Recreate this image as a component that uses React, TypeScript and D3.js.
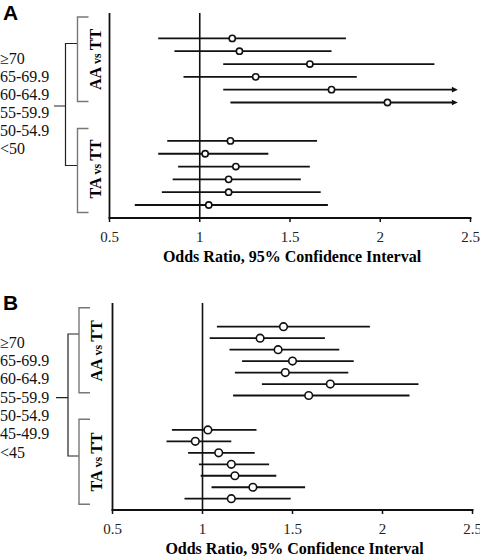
import React from "react";
import * as d3 from "d3";

// ---- Data ----
const ticks = [0.5, 1, 1.5, 2, 2.5];
const tickLabels = ["0.5", "1", "1.5", "2", "2.5"];
const axisTitle = "Odds Ratio, 95% Confidence Interval";
const groupLabels = [
  ["AA", "vs", "TT"],
  ["TA", "vs", "TT"],
];

const A_ages = ["≥70", "65-69.9", "60-64.9", "55-59.9", "50-54.9", "<50"];
const A_AA_or = [1.18, 1.22, 1.61, 1.31, 1.73, 2.04];
const A_AA_lo = [0.77, 0.86, 1.13, 0.91, 1.13, 1.17];
const A_AA_hi = [1.81, 1.73, 2.3, 1.87, 2.43, 2.43];
const A_AA_arrow = [false, false, false, false, true, true];
const A_TA_or = [1.17, 1.03, 1.2, 1.16, 1.16, 1.05];
const A_TA_lo = [0.82, 0.77, 0.88, 0.85, 0.79, 0.64];
const A_TA_hi = [1.65, 1.38, 1.61, 1.56, 1.67, 1.71];

const B_ages = ["≥70", "65-69.9", "60-64.9", "55-59.9", "50-54.9", "45-49.9", "<45"];
const B_AA_or = [1.45, 1.32, 1.42, 1.5, 1.46, 1.71, 1.59];
const B_AA_lo = [1.08, 1.04, 1.15, 1.22, 1.18, 1.33, 1.17];
const B_AA_hi = [1.93, 1.68, 1.76, 1.84, 1.81, 2.2, 2.15];
const B_AA_arrow = [false, false, false, false, false, false, false];
const B_TA_or = [1.03, 0.96, 1.09, 1.16, 1.18, 1.28, 1.16];
const B_TA_lo = [0.83, 0.8, 0.92, 0.98, 0.99, 1.05, 0.9];
const B_TA_hi = [1.3, 1.16, 1.29, 1.37, 1.41, 1.57, 1.49];

type PanelCfg = {
  letter: string;
  letterY: number;
  ages: string[];
  ageBase0: number;
  ageStep: number;
  x0: number;
  x1: number;
  yTop: number;
  yAxis: number;
  slot0: number;
  slotN: number;
  nSlots: number;
  taStart: number;
  aa: { or: number[]; lo: number[]; hi: number[]; arrow: boolean[] };
  ta: { or: number[]; lo: number[]; hi: number[] };
  outerX: number;
  outerTop: number;
  outerBot: number;
  stubX: number;
  stubY: number;
  innerX: number;
  innerTickX: number;
  aaTop: number;
  aaBot: number;
  taTop: number;
  taBot: number;
  grpBaseX: number;
  aaMid: number;
  taMid: number;
  r: number;
};

const serif = "'Liberation Serif', 'Times New Roman', serif";
const sans = "'Liberation Sans', Arial, sans-serif";

function GroupLabel({ x, y, parts }: { x: number; y: number; parts: string[] }) {
  return (
    <text
      transform={`translate(${x},${y}) rotate(-90)`}
      textAnchor="middle"
      fontFamily={serif}
      fontWeight="bold"
      fontSize={16}
    >
      {parts[0]}
      <tspan fontSize={12}>{" " + parts[1] + " "}</tspan>
      {parts[2]}
    </text>
  );
}

function Panel({ c }: { c: PanelCfg }) {
  const x = d3.scaleLinear().domain([0.5, 2.5]).range([c.x0, c.x1]);
  const y = d3.scaleLinear().domain([0, c.nSlots - 1]).range([c.slot0, c.slotN]);
  const rows: { slot: number; or: number; lo: number; hi: number; arrow: boolean }[] = [];
  c.aa.or.forEach((v, i) =>
    rows.push({ slot: i, or: v, lo: c.aa.lo[i], hi: c.aa.hi[i], arrow: c.aa.arrow[i] })
  );
  c.ta.or.forEach((v, i) =>
    rows.push({ slot: c.taStart + i, or: v, lo: c.ta.lo[i], hi: c.ta.hi[i], arrow: false })
  );
  const mid = (x(0.5) + x(2.5)) / 2;
  return (
    <g>
      <text x={3} y={c.letterY} fontFamily={sans} fontWeight="bold" fontSize={21}>
        {c.letter}
      </text>
      {c.ages.map((a, i) => (
        <text key={a} x={0} y={c.ageBase0 + i * c.ageStep} fontFamily={serif} fontSize={16} fill="#111">
          {a}
        </text>
      ))}
      {/* outer bracket */}
      <path
        d={`M${c.stubX},${c.stubY}H${c.outerX}M${c.innerX},${c.outerTop}H${c.outerX}V${c.outerBot}H${c.innerX}`}
        fill="none"
        stroke="#222"
        strokeWidth={1.2}
      />
      {/* inner brackets */}
      <path
        d={`M${c.innerTickX},${c.aaTop}H${c.innerX}V${c.aaBot}H${c.innerTickX}M${c.innerTickX},${c.taTop}H${c.innerX}V${c.taBot}H${c.innerTickX}`}
        fill="none"
        stroke="#777"
        strokeWidth={1.4}
      />
      <GroupLabel x={c.grpBaseX} y={c.aaMid} parts={groupLabels[0]} />
      <GroupLabel x={c.grpBaseX} y={c.taMid} parts={groupLabels[1]} />
      {/* axes */}
      <line x1={x(0.5)} x2={x(0.5)} y1={c.yTop} y2={c.yAxis} stroke="#111" strokeWidth={1.8} />
      <line x1={x(1)} x2={x(1)} y1={c.yTop} y2={c.yAxis} stroke="#111" strokeWidth={1.6} />
      <line x1={x(0.5) - 1} x2={x(2.5) + 1} y1={c.yAxis} y2={c.yAxis} stroke="#111" strokeWidth={1.8} />
      {ticks.map((t, i) => (
        <g key={t}>
          <line x1={x(t)} x2={x(t)} y1={c.yAxis} y2={c.yAxis + 4} stroke="#111" strokeWidth={1.5} />
          <text
            x={x(t)}
            y={c.yAxis + 23.5}
            textAnchor="middle"
            fontFamily={serif}
            fontSize={15}
            fill="#222"
          >
            {tickLabels[i]}
          </text>
        </g>
      ))}
      <text
        x={mid + 2}
        y={c.yAxis + 44}
        textAnchor="middle"
        fontFamily={serif}
        fontWeight="bold"
        fontSize={16}
      >
        {axisTitle}
      </text>
      {/* error bars */}
      {rows.map((r, i) => (
        <g key={i}>
          <line
            x1={x(r.lo)}
            x2={r.arrow ? x(r.hi) - 5 : x(r.hi)}
            y1={y(r.slot)}
            y2={y(r.slot)}
            stroke="#111"
            strokeWidth={1.8}
          />
          {r.arrow && (
            <path
              d={`M${x(r.hi)},${y(r.slot)}L${x(r.hi) - 6},${y(r.slot) - 2.8}L${x(r.hi) - 6},${y(r.slot) + 2.8}Z`}
              fill="#111"
            />
          )}
          <circle cx={x(r.or)} cy={y(r.slot)} r={c.r} fill="#fff" stroke="#111" strokeWidth={1.6} />
        </g>
      ))}
    </g>
  );
}

const cfgA: PanelCfg = {
  letter: "A",
  letterY: 20,
  ages: A_ages,
  ageBase0: 64,
  ageStep: 18,
  x0: 109.5,
  x1: 470.5,
  yTop: 13,
  yAxis: 218,
  slot0: 38.4,
  slotN: 205,
  nSlots: 14,
  taStart: 8,
  aa: { or: A_AA_or, lo: A_AA_lo, hi: A_AA_hi, arrow: A_AA_arrow },
  ta: { or: A_TA_or, lo: A_TA_lo, hi: A_TA_hi },
  outerX: 65.5,
  outerTop: 43.5,
  outerBot: 165.5,
  stubX: 54,
  stubY: 106,
  innerX: 77.5,
  innerTickX: 88.5,
  aaTop: 17,
  aaBot: 101.5,
  taTop: 128.5,
  taBot: 212.5,
  grpBaseX: 100.5,
  aaMid: 59.5,
  taMid: 169,
  r: 3.1,
};

const cfgB: PanelCfg = {
  letter: "B",
  letterY: 310,
  ages: B_ages,
  ageBase0: 347.5,
  ageStep: 18.35,
  x0: 112.5,
  x1: 472.5,
  yTop: 303,
  yAxis: 510,
  slot0: 326.7,
  slotN: 498.7,
  nSlots: 16,
  taStart: 9,
  aa: { or: B_AA_or, lo: B_AA_lo, hi: B_AA_hi, arrow: B_AA_arrow },
  ta: { or: B_TA_or, lo: B_TA_lo, hi: B_TA_hi },
  outerX: 68,
  outerTop: 334,
  outerBot: 456,
  stubX: 56,
  stubY: 397.7,
  innerX: 79,
  innerTickX: 90,
  aaTop: 307.7,
  aaBot: 392.7,
  taTop: 419.3,
  taBot: 504.3,
  grpBaseX: 101.5,
  aaMid: 351,
  taMid: 462,
  r: 3.8,
};

export default function App() {
  return (
    <svg
      width={480}
      height={560}
      style={{ position: "absolute", left: 0, top: 0, background: "#fff" }}
    >
      <rect width={480} height={560} fill="#fff" />
      <Panel c={cfgA} />
      <Panel c={cfgB} />
    </svg>
  );
}
